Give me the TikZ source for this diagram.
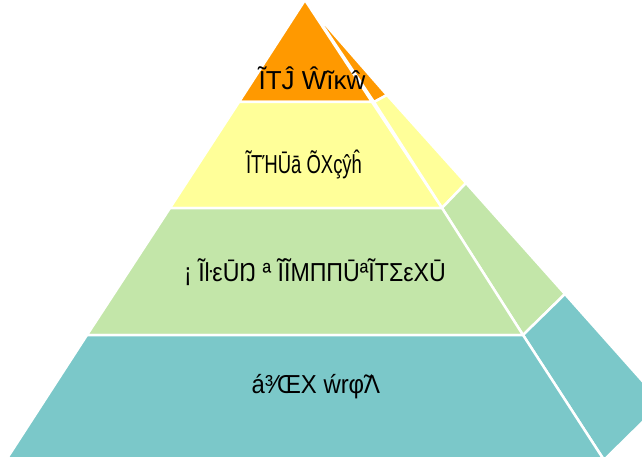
\documentclass[tikz,border=0pt]{standalone}
\usepackage{fontspec}
\setmainfont{Liberation Sans}
\definecolor{lvlA}{HTML}{FF9900}
\definecolor{lvlB}{HTML}{FFFF99}
\definecolor{lvlC}{HTML}{C3E6A9}
\definecolor{lvlD}{HTML}{7BC8C9}
\tikzset{
  face/.style={draw=white, line width=2.5pt, line join=miter},
  lbl/.style={font=\fontsize{26}{28}\selectfont, text=black, inner sep=0pt}
}
\begin{document}
\begin{tikzpicture}[x=1pt,y=-1pt]
\useasboundingbox (0,0) rectangle (642,457);
\begin{scope}
\clip (0,0) rectangle (642,457);
% side faces
\fill[lvlA,face] (311,8) -- (387,95) -- (374,102) -- cycle;
\fill[lvlB,face] (374,102) -- (387,95) -- (466,183) -- (442,208) -- cycle;
\fill[lvlC,face] (442,208) -- (466,183) -- (565,294) -- (523,335) -- cycle;
\fill[lvlD,face] (523,335) -- (565,294) -- (662,403) -- (604,460) -- cycle;
% front faces
\fill[lvlA,face] (305,0) -- (372,102) -- (239,102) -- cycle;
\fill[lvlB,face] (239,102) -- (372,102) -- (442,208) -- (170,208) -- cycle;
\fill[lvlC,face] (170,208) -- (442,208) -- (523,335) -- (87,335) -- cycle;
\fill[lvlD,face] (87,335) -- (523,335) -- (604,460) -- (6,460) -- cycle;
\end{scope}
\node[lbl] (l1) at (312,78) {\scalebox{1.0}[1]{ĨΤĴ Ŵĩκŵ}};
\node[lbl] (l2) at (304,164) {\scalebox{0.71}[1]{ĨΤΉŪā ÕΧçŷĥ}};
\node[lbl] (l3) at (315,272) {\scalebox{0.89}[1]{¡ ĨŀεŪŊ ª ĨĨMΠΠŪªĨΤΣεXŪ}};
\node[lbl] (l4) at (316,387) {\scalebox{0.92}[1]{á³⁄ŒX ẃrφ̃Λ}};
\end{tikzpicture}
\end{document}
